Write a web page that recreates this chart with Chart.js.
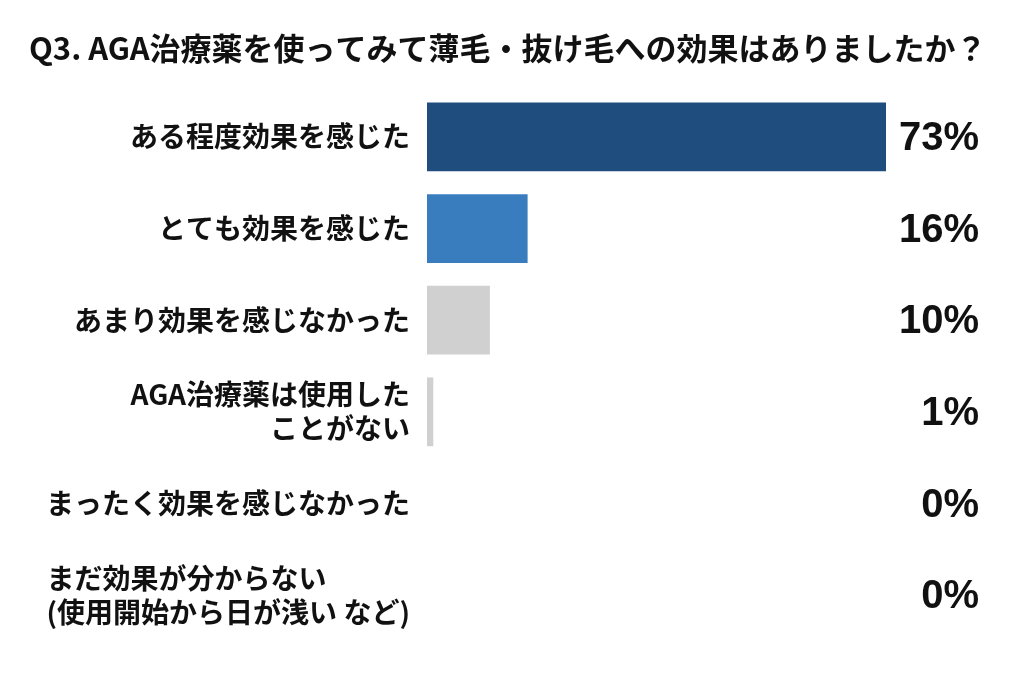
<!DOCTYPE html>
<html lang="ja">
<head>
<meta charset="utf-8">
<script src="https://cdn.jsdelivr.net/npm/chart.js@4.4.1/dist/chart.umd.min.js"></script>
<style>
  html, body { margin: 0; padding: 0; background: #fff; }
  #wrap { width: 1024px; height: 687px; }
</style>
</head>
<body>
<div id="wrap"><canvas id="chart"></canvas></div>
<script>
// データ
const categories = [
  ['ある程度効果を感じた'],
  ['とても効果を感じた'],
  ['あまり効果を感じなかった'],
  ['AGA治療薬は使用した', 'ことがない'],
  ['まったく効果を感じなかった'],
  ['まだ効果が分からない', '(使用開始から日が浅い など)']
];
const values = [73, 16, 10, 1, 0, 0];
const valueLabels = ['73%', '16%', '10%', '1%', '0%', '0%'];
const titleText = 'Q3. AGA治療薬を使ってみて薄毛・抜け毛への効果はありましたか？';

const barColors = ['#1f4d7e', '#3a7dbe', '#d0d0d0', '#d0d0d0', '#d0d0d0', '#d0d0d0'];
const jpFont = '"Noto Sans CJK JP", "Noto Sans", sans-serif';

// タイトル
const titlePlugin = {
  id: 'bigTitle',
  afterDraw(chart, args, opts) {
    const { ctx } = chart;
    ctx.save();
    ctx.font = 'bold 31px ' + jpFont;
    ctx.fillStyle = '#111';
    ctx.textAlign = 'left';
    ctx.textBaseline = 'middle';
    ctx.fillText(titleText, opts.x, opts.y);
    ctx.restore();
  }
};

// カテゴリラベル（最後の行だけ左揃え）
const categoryLabelPlugin = {
  id: 'categoryLabels',
  afterDraw(chart, args, opts) {
    const { ctx, scales: { y }, chartArea } = chart;
    ctx.save();
    ctx.font = 'bold 28px ' + jpFont;
    ctx.fillStyle = '#111';
    ctx.textBaseline = 'middle';
    const right = chartArea.left - opts.gap;
    categories.forEach((lines, i) => {
      const cy = y.getPixelForValue(i);
      const lh = opts.lineHeight;
      const top = cy - (lines.length - 1) * lh / 2;
      const widest = Math.max(...lines.map(l => ctx.measureText(l).width));
      lines.forEach((line, j) => {
        if (opts.leftRows.includes(i)) {
          ctx.textAlign = 'left';
          ctx.fillText(line, right - widest, top + j * lh);
        } else {
          ctx.textAlign = 'right';
          ctx.fillText(line, right, top + j * lh);
        }
      });
    });
    ctx.restore();
  }
};

// 右端のパーセント表示
const valueLabelPlugin = {
  id: 'valueLabels',
  afterDatasetsDraw(chart, args, opts) {
    const { ctx } = chart;
    const meta = chart.getDatasetMeta(0);
    ctx.save();
    ctx.font = 'bold 40px "Liberation Sans", Arial, sans-serif';
    ctx.fillStyle = '#111';
    ctx.textAlign = 'right';
    ctx.textBaseline = 'middle';
    meta.data.forEach((bar, i) => {
      ctx.fillText(valueLabels[i], opts.x, bar.y + 2);
    });
    ctx.restore();
  }
};

const ctx = document.getElementById('chart').getContext('2d');
new Chart(ctx, {
  type: 'bar',
  data: {
    labels: categories,
    datasets: [{
      data: values,
      backgroundColor: barColors,
      borderWidth: 0,
      barPercentage: 0.75,
      categoryPercentage: 1
    }]
  },
  options: {
    indexAxis: 'y',
    responsive: true,
    maintainAspectRatio: false,
    animation: false,
    layout: { padding: { left: 30, right: 138, top: 91, bottom: 46 } },
    plugins: {
      legend: { display: false },
      tooltip: { enabled: false },
      title: { display: false },
      bigTitle: { x: 29, y: 48 },
      categoryLabels: { gap: 17, lineHeight: 34, leftRows: [5] },
      valueLabels: { x: 979 }
    },
    scales: {
      x: {
        display: false,
        min: 0,
        max: 73
      },
      y: {
        grid: { display: false },
        border: { display: false },
        ticks: { display: false },
        afterFit(scale) { scale.width = 397; }
      }
    }
  },
  plugins: [titlePlugin, categoryLabelPlugin, valueLabelPlugin]
});
</script>
</body>
</html>
